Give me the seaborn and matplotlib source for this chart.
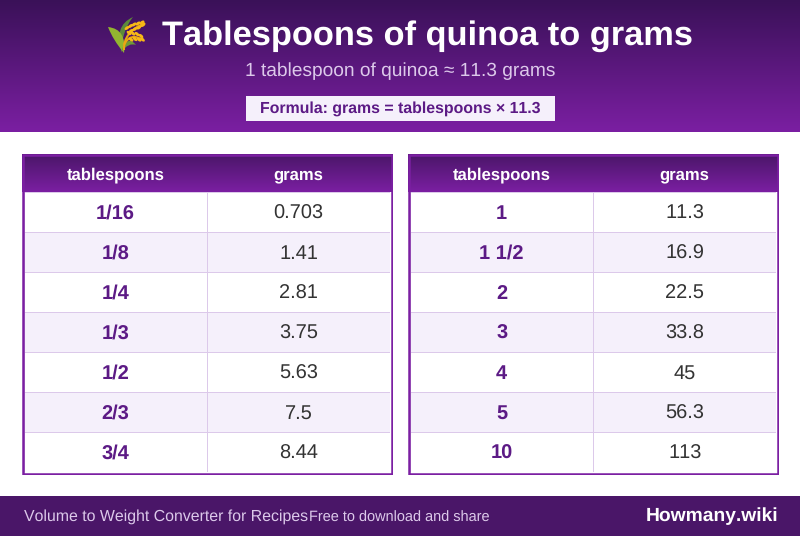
import numpy as np
import seaborn as sns
import matplotlib.pyplot as plt
from matplotlib.colors import LinearSegmentedColormap, ListedColormap
from matplotlib.patches import Rectangle, PathPatch, Ellipse
from matplotlib.path import Path

sns.set_theme(style="white")
plt.rcParams["font.family"] = ["Liberation Sans", "DejaVu Sans"]
plt.rcParams["text.kerning_factor"] = 6
plt.rcParams["text.hinting"] = "no_hinting"

W, H = 800, 536

title = "Tablespoons of quinoa to grams"
subtitle = "1 tablespoon of quinoa ≈ 11.3 grams"
formula = "Formula: grams = tablespoons × 11.3"
footer_left = "Volume to Weight Converter for Recipes"
footer_mid = "Free to download and share"
footer_right = "Howmany.wiki"
columns = ["tablespoons", "grams"]

left_spoons = ["1/16", "1/8", "1/4", "1/3", "1/2", "2/3", "3/4"]
left_grams = ["0.703", "1.41", "2.81", "3.75", "5.63", "7.5", "8.44"]
right_spoons = ["1", "1 1/2", "2", "3", "4", "5", "10"]
right_grams = ["11.3", "16.9", "22.5", "33.8", "45", "56.3", "113"]

DARK = "#3a1158"
MID = "#4a1668"
PURPLE = "#7b1fa2"
TEXT_PURPLE = "#5c1a85"
ZEBRA = "#f5f0fb"
GRID = "#dcc9ea"

grad_page = LinearSegmentedColormap.from_list("page", [DARK, PURPLE])
grad_head = LinearSegmentedColormap.from_list("head", [MID, PURPLE])
ramp = np.linspace(0, 1, 256).reshape(-1, 1)


def px_axes(fig, x0, y0, x1, y1):
    # axes placed by pixel box, y measured from the top
    return fig.add_axes([x0 / W, 1 - y1 / H, (x1 - x0) / W, (y1 - y0) / H])


def draw_rice(ax):
    # small rice sheaf, stands in for the emoji
    def leaf(tip, c1, base, c2, color):
        pts = [tip, c1, base, c2, tip]
        codes = [Path.MOVETO, Path.CURVE3, Path.CURVE3, Path.CURVE3, Path.CURVE3]
        ax.add_patch(PathPatch(Path(pts, codes), fc=color, ec="none", zorder=3))

    def stalk(a, c, b):
        codes = [Path.MOVETO, Path.CURVE3, Path.CURVE3]
        ax.add_patch(PathPatch(Path([a, c, b], codes), fc="none", ec="#eaa612", lw=1.5, zorder=3))

    leaf((133, 17), (113, 26), (122, 52), (121, 32), "#5d8a3a")
    leaf((108, 27), (127, 29), (124, 53), (113, 40), "#93b530")
    leaf((136, 45), (127, 34), (121, 52), (129, 42), "#6f9a35")
    stalk((124, 50), (123, 32), (145, 23))
    stalk((124, 45), (130, 32), (143, 40))
    for x, y in [(127, 28), (130.5, 26), (134, 24.5), (138, 23.5), (142, 22.5), (131, 31), (135, 29), (139, 27.5), (143, 25)]:
        ax.add_patch(Ellipse((x, y), 5.5, 3, angle=-35, fc="#f7b916", ec="none", zorder=4))
    for x, y in [(129, 33), (133, 33.5), (137, 34), (141, 36), (131, 39.5), (135, 39), (139, 39.5), (142.5, 39.5)]:
        ax.add_patch(Ellipse((x, y), 5.5, 3, angle=40, fc="#f7b916", ec="none", zorder=4))


def draw_table(fig, x0, x1, spoons, grams):
    top, head_end, bottom = 154, 192, 475

    body = px_axes(fig, x0 + 2.2, head_end, x1 - 2.8, head_end + 280)
    shade = np.array([[i % 2, i % 2] for i in range(len(spoons))])
    labels = np.array([spoons, grams]).T
    sns.heatmap(shade, ax=body, cmap=ListedColormap(["white", ZEBRA]), vmin=0, vmax=1, cbar=False,
                annot=labels, fmt="", linewidths=0.72, linecolor=GRID,
                xticklabels=False, yticklabels=False,
                annot_kws={"fontsize": 14.4})
    for i, t in enumerate(body.texts):
        if i % 2 == 0:
            t.set_color(TEXT_PURPLE)
            t.set_fontweight("bold")
            shift = 0.17
        else:
            t.set_color("#333333")
            shift = 0.18
        # baseline is steadier than centring with slashes in the labels
        t.set_verticalalignment("baseline")
        t.set_y(t.get_position()[1] + shift)

    frame = px_axes(fig, x0, top, x1, bottom)
    frame.imshow(ramp, cmap=grad_head, aspect="auto", extent=(x0, x1, head_end, top), zorder=1)
    frame.set_xlim(x0, x1)
    frame.set_ylim(bottom, top)
    frame.axis("off")
    frame.add_patch(Rectangle((x0 + 1.25, top + 1.25), x1 - x0 - 2.5, bottom - top - 2.5,
                              fc="none", ec=PURPLE, lw=1.8, zorder=5))

    # header labels sit over the two body columns
    frame.text(x0 + 93.5, 179.5, columns[0], color="white", fontweight="bold", fontsize=12,
               ha="center", va="baseline", zorder=6)
    frame.text(x0 + 276, 179.5, columns[1], color="white", fontweight="bold", fontsize=12,
               ha="center", va="baseline", zorder=6)


fig = plt.figure(figsize=(W / 100, H / 100), dpi=100, facecolor="white")

bg = px_axes(fig, 0, 0, W, H)
bg.imshow(ramp, cmap=grad_page, aspect="auto", extent=(0, W, 132, 0))
bg.add_patch(Rectangle((0, 496), W, 40, fc=MID, ec="none"))
bg.add_patch(Rectangle((246, 96), 309, 25, fc=ZEBRA, ec="none"))
bg.set_xlim(0, W)
bg.set_ylim(H, 0)
bg.axis("off")

draw_rice(bg)
bg.text(427, 45, title, color="white", fontweight="bold", fontsize=24.75, ha="center", va="baseline")
bg.text(400, 76, subtitle, color="#dcc9ea", fontsize=13.8, ha="center", va="baseline")
bg.text(400.5, 113, formula, color=TEXT_PURPLE, fontweight="bold", fontsize=11.4, ha="center", va="baseline")
bg.text(24, 521, footer_left, color="#dcc9ea", fontsize=11.4, ha="left", va="baseline")
bg.text(309, 521.5, footer_mid, color="#dcc9ea", fontsize=10.45, ha="left", va="baseline")
bg.text(778, 521, footer_right, color="white", fontweight="bold", fontsize=13.9, ha="right", va="baseline")

draw_table(fig, 22, 393, left_spoons, left_grams)
draw_table(fig, 408, 779, right_spoons, right_grams)

fig.savefig("out.png", dpi=100)
